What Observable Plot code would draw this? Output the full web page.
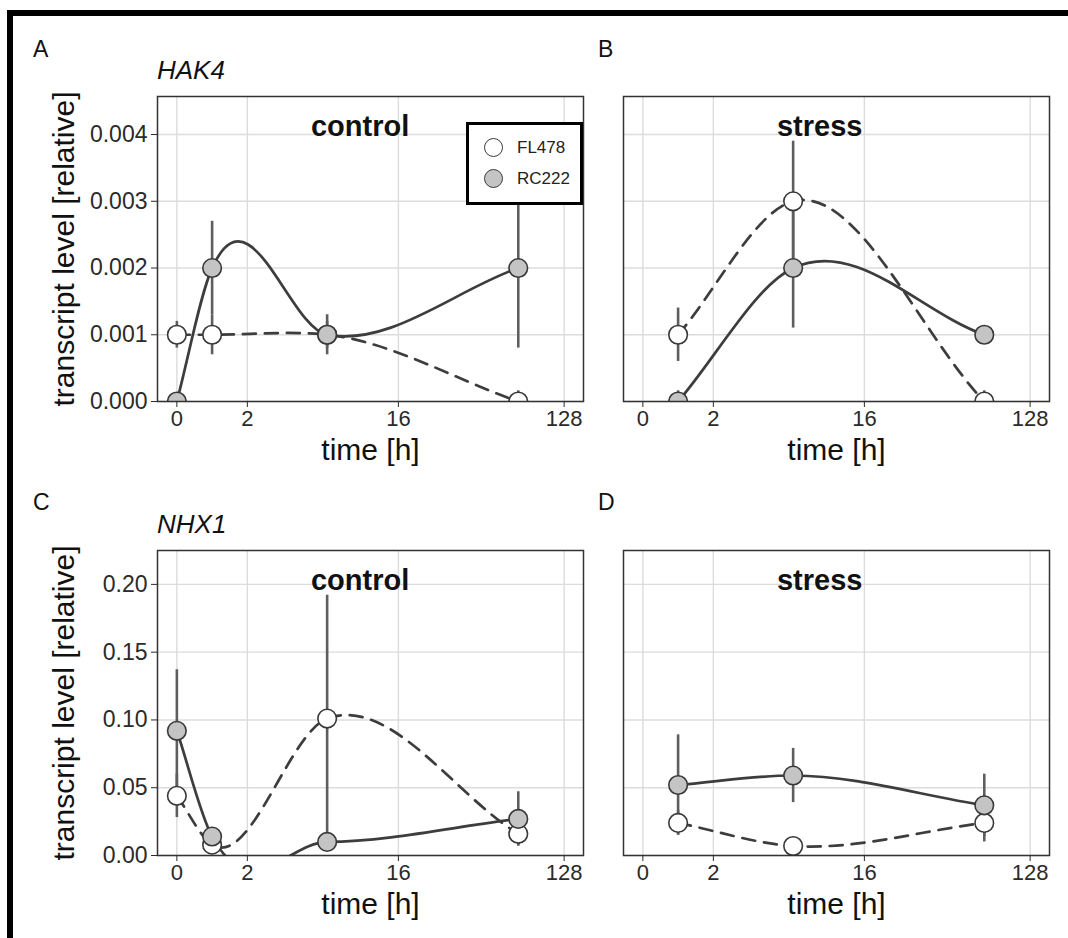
<!DOCTYPE html>
<html><head><meta charset="utf-8">
<script src="https://cdn.jsdelivr.net/npm/d3@7"></script>
<script src="https://cdn.jsdelivr.net/npm/@observablehq/plot@0.6"></script>
<style>
body{margin:0;background:#fff;font-family:"Liberation Sans",Arial,sans-serif;}
#root{position:relative;width:1068px;height:938px;overflow:hidden;background:#fff;}
#border{position:absolute;left:7px;top:10px;width:2000px;height:2000px;border-left:6px solid #000;border-top:6px solid #000;}
.plab{position:absolute;font-size:23px;line-height:23px;color:#111;}
.gene{position:absolute;font-size:26px;font-style:italic;line-height:26px;color:#111;}
.panel{position:absolute;}
#legend{position:absolute;left:466px;top:122px;width:117px;height:83px;border:3.5px solid #000;box-sizing:border-box;background:#fff;}
.li{position:absolute;left:0;height:20px;font-size:17px;line-height:20px;color:#222;}
.sw{position:absolute;left:15px;top:-1px;width:19px;height:19px;border-radius:50%;border:1.6px solid #3a3a3a;box-sizing:border-box;}
.lt{position:absolute;left:48px;top:-1px;white-space:nowrap;}
</style></head>
<body><div id="root"><div id="border"></div></div>
<script>
// ---------------- data ----------------
const genotypes = ["FL478", "RC222"];
const controlTimes = [0, 1, 6, 72];
const stressTimes = [1, 6, 72];
const xTickLabels = [0, 2, 16, 128];
const hak4YTicks = [0, 0.001, 0.002, 0.003, 0.004];
const nhx1YTicks = [0, 0.05, 0.10, 0.15, 0.20];

// HAK4, control
const hak4ControlFL478 = [0.001, 0.001, 0.001, 0.0];
const hak4ControlFL478Err = [0.0002, 0.0003, 0.0002, 0.00016];
const hak4ControlRC222 = [0.0, 0.002, 0.001, 0.002];
const hak4ControlRC222Err = [0.00012, 0.0007, 0.0003, 0.0012];
// HAK4, stress
const hak4StressFL478 = [0.001, 0.003, 0.0];
const hak4StressFL478Err = [0.0004, 0.0009, 0.00016];
const hak4StressRC222 = [0.0, 0.002, 0.001];
const hak4StressRC222Err = [0.00016, 0.0009, 0.00005];
// NHX1, control
const nhx1ControlFL478 = [0.044, 0.008, 0.101, 0.016];
const nhx1ControlFL478Err = [0.016, 0.003, 0.091, 0.009];
const nhx1ControlRC222 = [0.092, 0.014, 0.010, 0.027];
const nhx1ControlRC222Err = [0.045, 0.004, 0.003, 0.020];
// NHX1, stress
const nhx1StressFL478 = [0.024, 0.007, 0.024];
const nhx1StressFL478Err = [0.009, 0.002, 0.014];
const nhx1StressRC222 = [0.052, 0.059, 0.037];
const nhx1StressRC222Err = [0.037, 0.020, 0.023];

// ---------------- time axis warp (compressed, log-like time axis) ----------------
function warp(t) {
  if (t <= 2) return 0.182 * t / 2;
  const l = Math.log2(t / 2);
  if (t <= 16) return 0.182 + (l / 3) * 0.390;
  return 0.572 + ((l - 3) / 3) * 0.428;
}
const xTickPos = xTickLabels.map(warp);
const xLabelOf = new Map(xTickPos.map((u, i) => [u, String(xTickLabels[i])]));

// smooth interpolating curve (cubic Hermite, Bessel tangents) as a d3-style curve factory
function smoothCurve(context) {
  return {
    pts: [],
    areaStart() {}, areaEnd() {},
    lineStart() { this.pts = []; },
    point(x, y) { this.pts.push([+x, +y]); },
    lineEnd() {
      const p = this.pts, n = p.length;
      if (!n) return;
      context.moveTo(p[0][0], p[0][1]);
      if (n === 1) return;
      if (n === 2) { context.lineTo(p[1][0], p[1][1]); return; }
      const h = [], d = [], m = [];
      for (let i = 0; i < n - 1; i++) { h[i] = p[i + 1][0] - p[i][0]; d[i] = (p[i + 1][1] - p[i][1]) / h[i]; }
      m[0] = d[0]; m[n - 1] = d[n - 2];
      for (let i = 1; i < n - 1; i++) m[i] = 0.8 * (h[i] * d[i - 1] + h[i - 1] * d[i]) / (h[i - 1] + h[i]);
      for (let i = 0; i < n - 1; i++) {
        const dx = h[i] / 3;
        context.bezierCurveTo(p[i][0] + dx, p[i][1] + m[i] * dx, p[i + 1][0] - dx, p[i + 1][1] - m[i + 1] * dx, p[i + 1][0], p[i + 1][1]);
      }
    }
  };
}

const FONT = '"Liberation Sans", Arial, sans-serif';
const root = document.getElementById("root");

function addDiv(cls, text, left, top) {
  const d = document.createElement("div");
  d.className = cls; d.textContent = text;
  d.style.left = left + "px"; d.style.top = top + "px";
  root.appendChild(d);
  return d;
}

function panel(o) {
  const rows = [];
  o.times.forEach((t, i) => rows.push({genotype: genotypes[0], time: t, value: o.fl[i], err: o.flErr[i]}));
  o.times.forEach((t, i) => rows.push({genotype: genotypes[1], time: t, value: o.rc[i], err: o.rcErr[i]}));
  const fl = rows.filter(d => d.genotype === genotypes[0]);
  const rc = rows.filter(d => d.genotype === genotypes[1]);
  const ml = o.showY ? 110 : 20, mr = 10, mt = 10, mb = 75;
  const W = 426, H = o.frameH;
  const X = d => warp(d.time);
  const marks = [
    Plot.gridX(xTickPos, {stroke: "#dcdcdc", strokeOpacity: 1, strokeWidth: 1.4}),
    Plot.gridY(o.yTicks, {stroke: "#dcdcdc", strokeOpacity: 1, strokeWidth: 1.4}),
    Plot.ruleX(rows, {x: X, y1: d => d.value - d.err, y2: d => d.value + d.err, stroke: "#5e5e5e", strokeWidth: 2.6, clip: true}),
    Plot.line(fl, {x: X, y: "value", curve: smoothCurve, stroke: "#3d3d3d", strokeWidth: 2.7, strokeDasharray: "13,9", clip: true}),
    Plot.line(rc, {x: X, y: "value", curve: smoothCurve, stroke: "#3d3d3d", strokeWidth: 2.7, clip: true}),
    Plot.dot(fl, {x: X, y: "value", r: 9.3, fill: "#ffffff", stroke: "#383838", strokeWidth: 1.6, clip: true}),
    Plot.dot(rc, {x: X, y: "value", r: 9.3, fill: "#c4c4c4", stroke: "#383838", strokeWidth: 1.6, clip: true}),
    Plot.text([o.title], {x: warp(4.8), y: 0.9 * o.yDomain[1], textAnchor: "start", fontSize: 29, fontWeight: "bold", fill: "#111"}),
    Plot.frame({stroke: "#333", strokeWidth: 1.5}),
    Plot.axisX({ticks: xTickPos, tickFormat: u => xLabelOf.get(u), tickSize: 6, tickPadding: 3, fontSize: 22, color: "#2a2a2a", label: null}),
    Plot.text(["time [h]"], {frameAnchor: "bottom", dy: 49, lineAnchor: "middle", textAnchor: "middle", fontSize: 30, fill: "#111"})
  ];
  if (o.showY) {
    marks.push(Plot.axisY({ticks: o.yTicks, tickFormat: o.yFmt, tickSize: 6, tickPadding: 4, fontSize: 23, color: "#2a2a2a", label: null}));
    marks.push(Plot.text(["transcript level [relative]"], {frameAnchor: "left", dx: -93, rotate: -90, textAnchor: "middle", lineAnchor: "middle", fontSize: 30, fill: "#111"}));
  }
  const svg = Plot.plot({
    width: ml + W + mr, height: mt + H + mb,
    marginLeft: ml, marginRight: mr, marginTop: mt, marginBottom: mb,
    x: {type: "linear", domain: [-0.05, 1.05], axis: null},
    y: {type: "linear", domain: o.yDomain, axis: null},
    style: {fontFamily: FONT, background: "transparent", overflow: "visible", color: "#2a2a2a"},
    marks
  });
  svg.classList.add("panel");
  svg.style.position = "absolute";
  svg.style.left = (o.frameLeft - ml) + "px";
  svg.style.top = (o.frameTop - mt) + "px";
  root.appendChild(svg);
}

const hak4Domain = [0, 0.00457];
const nhx1Domain = [0, 0.225];

panel({times: controlTimes, fl: hak4ControlFL478, flErr: hak4ControlFL478Err, rc: hak4ControlRC222, rcErr: hak4ControlRC222Err,
  yDomain: hak4Domain, yTicks: hak4YTicks, yFmt: d3.format(".3f"), title: "control", showY: true, frameLeft: 157, frameTop: 96, frameH: 305});
panel({times: stressTimes, fl: hak4StressFL478, flErr: hak4StressFL478Err, rc: hak4StressRC222, rcErr: hak4StressRC222Err,
  yDomain: hak4Domain, yTicks: hak4YTicks, yFmt: d3.format(".3f"), title: "stress", showY: false, frameLeft: 623, frameTop: 96, frameH: 305});
panel({times: controlTimes, fl: nhx1ControlFL478, flErr: nhx1ControlFL478Err, rc: nhx1ControlRC222, rcErr: nhx1ControlRC222Err,
  yDomain: nhx1Domain, yTicks: nhx1YTicks, yFmt: d3.format(".2f"), title: "control", showY: true, frameLeft: 157, frameTop: 550, frameH: 305});
panel({times: stressTimes, fl: nhx1StressFL478, flErr: nhx1StressFL478Err, rc: nhx1StressRC222, rcErr: nhx1StressRC222Err,
  yDomain: nhx1Domain, yTicks: nhx1YTicks, yFmt: d3.format(".2f"), title: "stress", showY: false, frameLeft: 623, frameTop: 550, frameH: 305});

// panel tags and gene names
addDiv("plab", "A", 33, 37.5);
addDiv("plab", "B", 598, 37.5);
addDiv("plab", "C", 33, 490.5);
addDiv("plab", "D", 598, 490.5);
addDiv("gene", "HAK4", 157, 57);
addDiv("gene", "NHX1", 157, 511);

// legend (panel A)
const lg = document.createElement("div");
lg.id = "legend";
const fills = ["#ffffff", "#c4c4c4"];
genotypes.forEach((g, i) => {
  const it = document.createElement("div");
  it.className = "li";
  it.style.top = (14 + i * 31) + "px";
  const sw = document.createElement("div");
  sw.className = "sw"; sw.style.background = fills[i];
  const tx = document.createElement("div");
  tx.className = "lt"; tx.textContent = g;
  it.appendChild(sw); it.appendChild(tx);
  lg.appendChild(it);
});
root.appendChild(lg);
</script>
</body></html>
